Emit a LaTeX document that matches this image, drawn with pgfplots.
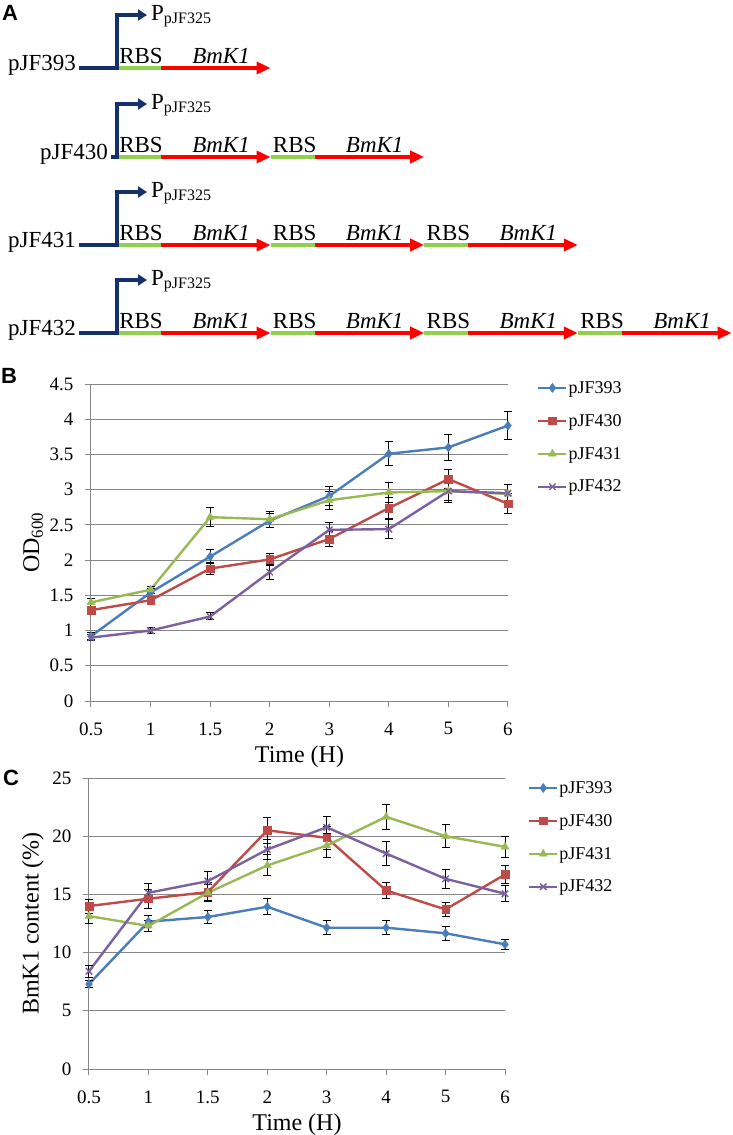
\documentclass[border=0pt]{standalone}
\usepackage{fontspec}
\setmainfont{Liberation Serif}
\setsansfont{Liberation Sans}
\usepackage{pgfplots}
\pgfplotsset{compat=1.18}
\usepackage{pgfplotstable}
\usetikzlibrary{arrows.meta}

\definecolor{sA}{HTML}{4A7EBB}
\definecolor{sB}{HTML}{BE4B48}
\definecolor{sC}{HTML}{98B954}
\definecolor{sD}{HTML}{7D60A0}
\definecolor{gridc}{HTML}{868686}
\definecolor{navy}{HTML}{15306A}
\definecolor{rbs}{HTML}{92D050}
\definecolor{gene}{HTML}{FF0000}

\newcommand{\fA}{\fontsize{23}{27}\selectfont}
\newcommand{\fT}{\fontsize{19}{22}\selectfont}
\newcommand{\fL}{\fontsize{24}{28}\selectfont}
\newcommand{\fG}{\fontsize{18}{21}\selectfont}
\newcommand{\fP}{\fontsize{22}{26}\selectfont\sffamily\bfseries}

% OD600, x = index of time point (0.5,1,1.5,2,3,4,5,6 h)
\pgfplotstableread{
x y e
0 0.92 0.05
1 1.54 0.06
2 2.05 0.10
3 2.56 0.10
4 2.91 0.13
5 3.51 0.17
6 3.60 0.18
7 3.91 0.20
}\odA
\pgfplotstableread{
x y e
0 1.29 0.05
1 1.43 0.06
2 1.88 0.09
3 2.01 0.09
4 2.30 0.11
5 2.74 0.15
6 3.15 0.14
7 2.80 0.14
}\odB
\pgfplotstableread{
x y e
0 1.40 0.06
1 1.58 0.05
2 2.61 0.13
3 2.58 0.11
4 2.85 0.13
5 2.96 0.14
6 2.98 0.16
7 2.94 0.14
}\odC
\pgfplotstableread{
x y e
0 0.90 0.04
1 1.00 0.04
2 1.20 0.05
3 1.83 0.11
4 2.43 0.11
5 2.44 0.13
6 2.98 0.14
7 2.95 0.12
}\odD

% BmK1 content (%)
\pgfplotstableread{
x y e
0 7.30 0.30
1 12.66 0.50
2 13.06 0.60
3 13.94 0.70
4 12.14 0.60
5 12.14 0.60
6 11.66 0.60
7 10.71 0.45
}\bmA
\pgfplotstableread{
x y e
0 14.00 0.60
1 14.63 0.80
2 15.20 0.80
3 20.51 1.10
4 19.86 1.00
5 15.34 0.70
6 13.71 0.60
7 16.71 0.80
}\bmB
\pgfplotstableread{
x y e
0 13.14 0.60
1 12.29 0.50
2 15.14 0.70
3 17.49 0.90
4 19.20 1.00
5 21.66 1.10
6 20.00 1.00
7 19.09 0.90
}\bmC
\pgfplotstableread{
x y e
0 8.40 0.50
1 15.14 0.80
2 16.14 0.80
3 18.86 0.90
4 20.77 0.90
5 18.51 1.00
6 16.34 0.80
7 15.06 0.70
}\bmD

\pgfplotsset{
  excel/.style={
    scale only axis, clip=false,
    xmin=0, xmax=7, xtick={0,...,7},
    xticklabels={0.5,1,1.5,2,3,4,5,6},
    axis x line*=bottom, axis y line*=left,
    every outer x axis line/.append style={-},
    every outer y axis line/.append style={-},
    axis line style={-, draw=gridc, line width=1pt},
    tick style={draw=gridc, line width=1pt},
    tick align=outside, major tick length=6pt,
    ymajorgrids, grid style={draw=gridc, line width=1pt},
    ticklabel style={font=\fT},
    xticklabel style={yshift=-12pt},
    yticklabel style={xshift=-8pt},
    /pgf/number format/assume math mode=true,
    label style={font=\fL},
    xlabel={Time (H)},
    xlabel style={at={(axis description cs:0.5,0)}, anchor=base, yshift=-61pt},
    legend cell align=left,
    legend image code/.code={\draw[mark repeat=2,mark phase=2,##1] plot coordinates {(0pt,0pt) (14pt,0pt) (28pt,0pt)};},
    every axis plot/.append style={line width=2.4pt},
    error bars/y dir=both, error bars/y explicit,
    error bars/error bar style={black, line width=1pt},
    error bars/error mark options={black, rotate=90, mark size=4pt, line width=1pt},
  },
  sAs/.style={color=sA, mark=diamond*, mark options={fill=sA, draw=sA, mark size=4.5pt, line width=0.5pt}},
  sBs/.style={color=sB, mark=square*, mark options={fill=sB, draw=sB, mark size=3.8pt, line width=0.5pt}},
  sCs/.style={color=sC, mark=triangle*, mark options={fill=sC, draw=sC, mark size=4.5pt, line width=0.5pt}},
  sDs/.style={color=sD, mark=x, mark options={draw=sD, mark size=4.5pt, line width=1.5pt}},
}

\newcommand{\construct}[4]{%
\begin{scope}[shift={(0pt,-#1pt)}]
\foreach \i in {1,...,#3}{%
\pgfmathsetmacro{\sa}{117+(\i-1)*153.7}
\pgfmathsetmacro{\sb}{\sa+44}
\pgfmathsetmacro{\sc}{\sa+153.5}
\pgfmathsetmacro{\sd}{\sa+24}
\pgfmathsetmacro{\se}{\sa+104}
\draw[rbs, line width=4pt] (\sa pt,0pt) -- (\sb pt,0pt);
\draw[gene, line width=4pt, -{Triangle[length=14pt,width=12pt]}] (\sb pt,0pt) -- (\sc pt,0pt);
\node[anchor=base, font=\fA, inner sep=0pt] at (\sd pt,5pt) {RBS};
\node[anchor=base, font=\fA\itshape, inner sep=0pt] at (\se pt,5pt) {BmK1};
}
\node[anchor=base east, font=\fA, inner sep=0pt] at (#4pt,-2pt) {#2};
\draw[navy, line width=4pt, line join=miter, -{Triangle[length=9pt,width=11pt]}]
  ({#4pt+3pt},0pt) -- (117pt,0pt) -- (117pt,53pt) -- (147pt,53pt);
\node[anchor=base west, font=\fA, inner sep=0pt] at (151pt,48pt)
  {P\textsubscript{\fontsize{16}{16}\selectfont pJF325}};
\end{scope}}

\begin{document}
\begin{tikzpicture}
\useasboundingbox (0pt,0pt) rectangle (733pt,-1135pt);

% panel A: constructs
\node[anchor=base west, font=\fP, inner sep=0pt] at (2pt,-20pt) {A};
\construct{68}{pJF393}{1}{76}
\construct{157}{pJF430}{2}{108}
\construct{245}{pJF431}{3}{76}
\construct{333}{pJF432}{4}{76}

% panel B
\node[anchor=base west, font=\fP, inner sep=0pt] at (1pt,-383pt) {B};
\begin{axis}[excel,
  at={(91pt,-701pt)}, anchor=south west,
  width=417pt, height=317pt,
  ymin=0, ymax=4.5, ytick={0,0.5,1,1.5,2,2.5,3,3.5,4,4.5},
  ylabel={OD\textsubscript{600}},
  ylabel style={at={(axis description cs:-0.139,0.5)}, anchor=center},
  legend style={draw=none, fill=none, at={(1.0695,1.0126)}, anchor=north west,
    inner sep=0pt, row sep=17.5pt, font=\fG, nodes={inner sep=1pt},
    /tikz/every even column/.append style={column sep=2pt}},
]
\addplot[sAs] table[x=x, y=y, y error=e] {\odA};
\addplot[sBs] table[x=x, y=y, y error=e] {\odB};
\addplot[sCs] table[x=x, y=y, y error=e] {\odC};
\addplot[sDs] table[x=x, y=y, y error=e] {\odD};
\legend{pJF393,pJF430,pJF431,pJF432}
\end{axis}

% panel C
\node[anchor=base west, font=\fP, inner sep=0pt] at (3pt,-785pt) {C};
\begin{axis}[excel,
  at={(89pt,-1069pt)}, anchor=south west,
  width=416pt, height=291pt,
  ymin=0, ymax=25, ytick={0,5,10,15,20,25},
  ylabel={BmK1 content (\%)},
  ylabel style={at={(axis description cs:-0.135,0.5)}, anchor=center},
  legend style={draw=none, fill=none, at={(1.055,0.993)}, anchor=north west,
    inner sep=0pt, row sep=17.5pt, font=\fG, nodes={inner sep=1pt},
    /tikz/every even column/.append style={column sep=2pt}},
]
\addplot[sAs] table[x=x, y=y, y error=e] {\bmA};
\addplot[sBs] table[x=x, y=y, y error=e] {\bmB};
\addplot[sCs] table[x=x, y=y, y error=e] {\bmC};
\addplot[sDs] table[x=x, y=y, y error=e] {\bmD};
\legend{pJF393,pJF430,pJF431,pJF432}
\end{axis}
\end{tikzpicture}
\end{document}
